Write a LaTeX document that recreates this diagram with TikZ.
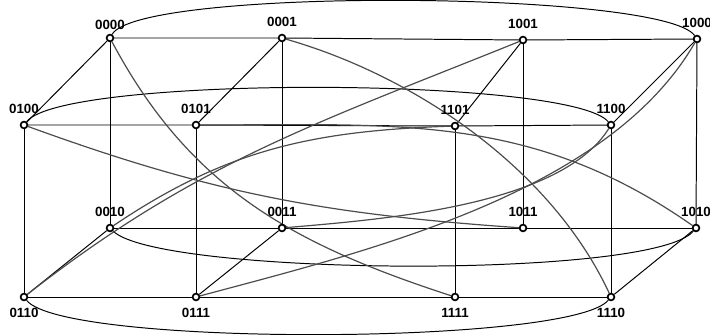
\documentclass[tikz,border=0pt]{standalone}
\usepackage{fontspec}
\setmainfont{Liberation Sans}
\usepackage{xcolor}
\usepackage{tikz}
\usetikzlibrary{positioning, backgrounds}

\begin{document}
\begin{tikzpicture}[
    x=0.025cm, y=0.025cm,
    myvertex/.style={circle, draw, line width=1.2pt, fill=white, inner sep=0pt, minimum size=4.8pt},
    mylabel/.style={font=\fontsize{9.5}{10}\selectfont\bfseries, inner sep=1pt},
    myedge/.style={line width=0.7pt},
    mycurve/.style={line width=0.85pt, black!70},
    label distance=4pt
]
  \useasboundingbox (0,0) rectangle (710,335);

  % Nodes
  \node[myvertex, label={[mylabel, label distance=2pt]above:0000}] (n0000) at (110,297) {};
  \node[myvertex, label={[mylabel]above:0001}] (n0001) at (282,297) {};
  \node[myvertex, label={[mylabel]above:1001}] (n1001) at (523,295) {};
  \node[myvertex, label={[mylabel]above:1000}] (n1000) at (697,296) {};

  \node[myvertex, label={[mylabel]above:0100}] (n0100) at (24,210) {};
  \node[myvertex, label={[mylabel]above:0101}] (n0101) at (196,210) {};
  \node[myvertex, label={[mylabel]above:1101}] (n1101) at (455,209) {};
  \node[myvertex, label={[mylabel]above:1100}] (n1100) at (611,210) {};

  \node[myvertex, label={[mylabel]above:0010}] (n0010) at (110,107) {};
  \node[myvertex, label={[mylabel]above:0011}] (n0011) at (282,107) {};
  \node[myvertex, label={[mylabel]above:1011}] (n1011) at (523,107) {};
  \node[myvertex, label={[mylabel]above:1010}] (n1010) at (696,107) {};

  \node[myvertex, label={[mylabel]below:0110}] (n0110) at (24,38) {};
  \node[myvertex, label={[mylabel]below:0111}] (n0111) at (196,38) {};
  \node[myvertex, label={[mylabel]below:1111}] (n1111) at (455,38) {};
  \node[myvertex, label={[mylabel]below:1110}] (n1110) at (611,38) {};

  \begin{scope}[on background layer]
  % Straight edges
  \draw[myedge] (n0000) -- (n0001) -- (n1001) -- (n1000);
  \draw[myedge] (n0100) -- (n0101) -- (n1101) -- (n1100);
  \draw[myedge] (n0010) -- (n0011) -- (n1011) -- (n1010);
  \draw[myedge] (n0110) -- (n0111) -- (n1111) -- (n1110);

  \draw[myedge] (n0000) -- (n0010);
  \draw[myedge] (n0001) -- (n0011);
  \draw[myedge] (n1001) -- (n1011);
  \draw[myedge] (n1000) -- (n1010);
  \draw[myedge] (n0100) -- (n0110);
  \draw[myedge] (n0101) -- (n0111);
  \draw[myedge] (n1101) -- (n1111);
  \draw[myedge] (n1100) -- (n1110);

  \draw[myedge] (n0000) -- (n0100);
  \draw[myedge] (n0001) -- (n0101);
  \draw[myedge] (n1001) -- (n1101);
  \draw[myedge] (n1000) -- (n1100);
  \draw[myedge] (n0010) -- (n0110);
  \draw[myedge] (n0011) -- (n0111);
  \draw[myedge] (n1010) -- (n1110);

  % Outer arcs
  \draw[myedge] (n0000) to[out=60, in=125, looseness=0.24] (n1000);
  \draw[myedge] (n0100) to[out=52, in=130, looseness=0.26] (n1100);
  \draw[myedge] (n0010) to[out=-45, in=-130, looseness=0.28] (n1010);
  \draw[myedge] (n0110) to[out=-52, in=-130, looseness=0.26] (n1110);

  % Complement edges
  \draw[mycurve] (n0000) to[out=-62, in=162] (n1111);
  \draw[mycurve] (n0001) to[out=-16, in=115, looseness=0.85] (n1110);
  \draw[mycurve] (n0110) to[out=38, in=202] (n1001);
  \draw[mycurve] (n0010) to[out=34, in=182] (n1101);
  \draw[mycurve] (n0011) to[out=5, in=238, looseness=0.7] (n1100);
  \draw[mycurve] (n0100) to[out=-20, in=176] (n1011);
  \draw[mycurve] (n0101) to[out=0, in=145] (n1010);
  \draw[mycurve] (n0111) to[out=15, in=-120, looseness=0.8] (n1000);
  \end{scope}

\end{tikzpicture}
\end{document}
